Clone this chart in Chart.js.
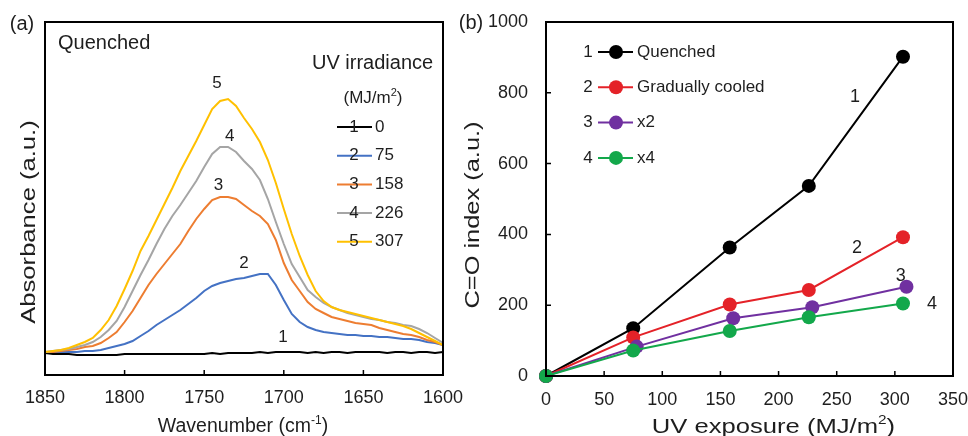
<!DOCTYPE html>
<html>
<head>
<meta charset="utf-8">
<script src="https://cdn.jsdelivr.net/npm/chart.js@4.4.1/dist/chart.umd.min.js"></script>
<style>
  html, body { margin: 0; padding: 0; background: #fff; }
  #wrap { position: relative; width: 968px; height: 436px; overflow: hidden; }
  #spectra { position: absolute; left: 0; top: 0; }
  #index { position: absolute; left: 455px; top: 0; }
</style>
</head>
<body>
<div id="wrap">
  <canvas id="spectra" width="472" height="436"></canvas>
  <canvas id="index" width="513" height="436"></canvas>
</div>
<script>
const FONT = '"Liberation Sans", Arial, sans-serif';
const INK = '#1e1e1e';

// (a) carbonyl band, absorbance above baseline (x1000, a.u.)
const wavenumbers = [1850, 1845, 1840, 1835, 1830, 1825, 1820, 1815, 1810, 1805,
  1800, 1795, 1790, 1785, 1780, 1775, 1770, 1765, 1760, 1755,
  1750, 1745, 1740, 1735, 1730, 1725, 1720, 1715, 1710, 1705,
  1700, 1695, 1690, 1685, 1680, 1675, 1670, 1665, 1660, 1655,
  1650, 1645, 1640, 1635, 1630, 1625, 1620, 1615, 1610, 1605, 1600];
const abs0 = [0, -1, -1, -1, -2, -2, -2, -2, -2, -2,
  -1, -1, -1, -1, -1, -1, -1, -1, -1, -1,
  -1, 0, -1, 0, 0, 0, 0, 1, 0, 1,
  1, 1, 1, 0, 1, 0, 1, 1, 0, 1,
  1, 1, 1, 0, 1, 1, 0, 1, 1, 0, 1];
const abs75 = [1, 1, 1, 1, 1, 2, 2, 3, 5, 7,
  9, 12, 17, 22, 28, 33, 38, 43, 49, 55,
  62, 67, 70, 72, 74, 75, 77, 79, 79, 68,
  53, 39, 31, 26, 23, 21, 20, 19, 18, 18,
  17, 17, 16, 16, 15, 14, 14, 13, 11, 10, 8];
const abs158 = [1, 1, 2, 3, 4, 6, 7, 10, 15, 21,
  31, 42, 55, 68, 79, 89, 99, 109, 122, 134,
  144, 153, 156, 156, 154, 148, 142, 137, 129, 113,
  90, 73, 62, 51, 44, 40, 36, 34, 32, 30,
  29, 28, 25, 23, 21, 19, 18, 16, 13, 11, 8];
const abs226 = [1, 2, 3, 4, 6, 8, 11, 16, 23, 32,
  46, 62, 78, 93, 109, 124, 137, 148, 160, 172,
  186, 199, 206, 206, 201, 192, 184, 173, 154, 131,
  109, 89, 76, 63, 56, 50, 46, 43, 40, 38,
  36, 34, 33, 31, 30, 28, 27, 24, 20, 15, 10];
const abs307 = [1, 2, 3, 5, 8, 11, 15, 23, 33, 47,
  64, 82, 102, 117, 133, 149, 165, 182, 197, 212,
  228, 244, 252, 254, 247, 235, 224, 211, 193, 170,
  144, 119, 97, 78, 62, 52, 46, 43, 41, 39,
  37, 35, 33, 31, 29, 27, 24, 20, 16, 12, 8];
const doses = [0, 75, 158, 226, 307];
const spectraColors = ['#000000', '#4472c4', '#ed7d31', '#a5a5a5', '#ffc000'];

// (b) C=O index against UV exposure
const exposure = [0, 75, 158, 226, 307];
const exposureX2 = [0, 78, 161, 229, 310];
const coQuenched = [0, 135, 363, 537, 902];
const coGradual = [0, 109, 202, 243, 392];
const coX2 = [0, 83, 163, 194, 252];
const coX4 = [0, 72, 127, 166, 205];
const sampleNames = ['Quenched', 'Gradually cooled', 'x2', 'x4'];
const sampleColors = ['#000000', '#e42228', '#7030a0', '#13a84b'];

// text with optional superscript parts, e.g. ['cm', ['-1']]
function drawText(ctx, parts, x, y, o = {}) {
  const size = o.size || 18;
  ctx.save();
  ctx.translate(x, y);
  if (o.rotate) ctx.rotate(-Math.PI / 2);
  ctx.scale(o.stretch || 1, 1);
  ctx.fillStyle = o.color || INK;
  ctx.textBaseline = 'middle';
  ctx.textAlign = 'left';
  const pieces = (typeof parts === 'string' ? [parts] : parts).map(p => {
    const sup = Array.isArray(p);
    const text = sup ? p[0] : p;
    const fs = sup ? Math.round(size * 0.62) : size;
    ctx.font = fs + 'px ' + FONT;
    return { text, fs, sup, w: ctx.measureText(text).width };
  });
  const total = pieces.reduce((s, p) => s + p.w, 0);
  let cx = o.align === 'left' ? 0 : -total / 2;
  pieces.forEach(p => {
    ctx.font = p.fs + 'px ' + FONT;
    ctx.fillText(p.text, cx, p.sup ? -size * 0.32 : 0);
    cx += p.w;
  });
  ctx.restore();
}

function hline(ctx, x1, x2, y, color) {
  ctx.save();
  ctx.strokeStyle = color;
  ctx.lineWidth = 2;
  ctx.beginPath();
  ctx.moveTo(x1, y);
  ctx.lineTo(x2, y);
  ctx.stroke();
  ctx.restore();
}

// box round the plot area, tick marks pointing inwards
const framePlugin = {
  id: 'frame',
  afterDraw(chart, args, opts) {
    const { ctx, chartArea: a } = chart;
    ctx.save();
    ctx.strokeStyle = '#000';
    ctx.lineWidth = 2;
    ctx.strokeRect(a.left, a.top, a.right - a.left, a.bottom - a.top);
    ctx.lineWidth = 1.5;
    ctx.beginPath();
    (opts.ticksOn || []).forEach(id => {
      const s = chart.scales[id];
      s.ticks.forEach(t => {
        const p = s.getPixelForValue(t.value);
        if (s.isHorizontal()) {
          ctx.moveTo(p, a.bottom);
          ctx.lineTo(p, a.bottom - 5);
        } else {
          ctx.moveTo(a.left, p);
          ctx.lineTo(a.left + 5, p);
        }
      });
    });
    ctx.stroke();
    ctx.restore();
  }
};

const spectraText = {
  id: 'spectraText',
  afterDraw(chart) {
    const { ctx, scales: { x, y } } = chart;
    drawText(ctx, '(a)', 22, 24, { size: 20 });
    drawText(ctx, 'Quenched', 58, 43, { size: 20, align: 'left' });
    drawText(ctx, 'UV irradiance', 312, 63, { size: 20, align: 'left' });
    drawText(ctx, ['(MJ/m', ['2'], ')'], 373, 98, { size: 17 });
    doses.forEach((d, i) => {
      const ry = 127 + i * 28.7;
      hline(ctx, 337, 372, ry, spectraColors[i]);
      drawText(ctx, String(i + 1), 354, ry, { size: 17 });
      drawText(ctx, String(d), 375, ry, { size: 17, align: 'left' });
    });
    // curve numbers, placed in data units
    const tags = [[1700.5, 16], [1725, 90], [1741, 168], [1734, 217], [1742, 270]];
    tags.forEach(([wn, v], i) => {
      drawText(ctx, String(i + 1), x.getPixelForValue(wn), y.getPixelForValue(v), { size: 17 });
    });
    drawText(ctx, ['Wavenumber (cm', ['-1'], ')'], 243, 427, { size: 19.5 });
    drawText(ctx, 'Absorbance (a.u.)', 29.5, 222, { size: 20, rotate: true, stretch: 1.28 });
  }
};

const indexText = {
  id: 'indexText',
  afterDraw(chart) {
    const { ctx, scales: { x, y } } = chart;
    drawText(ctx, '(b)', 16, 23, { size: 20 });
    sampleNames.forEach((name, i) => {
      const ry = 52 + i * 35.3;
      drawText(ctx, String(i + 1), 133, ry, { size: 17 });
      hline(ctx, 143, 178, ry, sampleColors[i]);
      ctx.save();
      ctx.fillStyle = sampleColors[i];
      ctx.beginPath();
      ctx.arc(161, ry, 7, 0, Math.PI * 2);
      ctx.fill();
      ctx.restore();
      drawText(ctx, name, 182, ry, { size: 17, align: 'left' });
    });
    const tags = [[265.7, 788], [267.4, 362], [305, 282], [332, 203]];
    tags.forEach(([ex, v], i) => {
      drawText(ctx, String(i + 1), x.getPixelForValue(ex), y.getPixelForValue(v), { size: 18 });
    });
    drawText(ctx, ['UV exposure (MJ/m', ['2'], ')'], 318.5, 427, { size: 20, stretch: 1.28 });
    drawText(ctx, 'C=O index (a.u.)', 18.5, 215, { size: 20, rotate: true, stretch: 1.27 });
  }
};

const tickFont = { family: FONT, size: 18 };
const noGrid = { display: false, drawTicks: false };
const plain = v => String(v);

new Chart(document.getElementById('spectra'), {
  type: 'line',
  data: {
    datasets: [abs0, abs75, abs158, abs226, abs307].map((vals, i) => ({
      label: String(doses[i]),
      data: vals.map((v, j) => ({ x: wavenumbers[j], y: v })),
      borderColor: spectraColors[i],
      borderWidth: 2,
      pointRadius: 0,
      tension: 0,
      order: 5 - i
    }))
  },
  options: {
    responsive: false,
    animation: false,
    layout: { padding: { top: 22, right: 29, left: 0, bottom: 0 } },
    plugins: { legend: { display: false }, tooltip: { enabled: false }, frame: { ticksOn: ['x'] } },
    scales: {
      x: {
        type: 'linear', reverse: true, min: 1600, max: 1850,
        ticks: { stepSize: 50, font: tickFont, color: INK, padding: 12, maxRotation: 0, autoSkip: false, callback: plain },
        grid: noGrid, border: { display: false },
        afterFit: s => { s.height = 61; s.paddingLeft = 0; s.paddingRight = 0; }
      },
      y: {
        min: -22, max: 331,
        ticks: { display: false },
        grid: noGrid, border: { display: false },
        afterFit: s => { s.width = 45; s.paddingTop = 0; s.paddingBottom = 0; }
      }
    }
  },
  plugins: [framePlugin, spectraText]
});

const indexX = [exposure, exposure, exposureX2, exposure];
new Chart(document.getElementById('index'), {
  type: 'line',
  data: {
    datasets: [coQuenched, coGradual, coX2, coX4].map((vals, i) => ({
      label: sampleNames[i],
      data: vals.map((v, j) => ({ x: indexX[i][j], y: v })),
      borderColor: sampleColors[i],
      backgroundColor: sampleColors[i],
      borderWidth: 2,
      pointRadius: 7,
      pointBorderWidth: 0,
      pointBackgroundColor: sampleColors[i],
      tension: 0,
      clip: false,
      order: 4 - i
    }))
  },
  options: {
    responsive: false,
    animation: false,
    layout: { padding: { top: 22, right: 15, left: 0, bottom: 0 } },
    plugins: { legend: { display: false }, tooltip: { enabled: false }, frame: { ticksOn: ['x', 'y'] } },
    scales: {
      x: {
        type: 'linear', min: 0, max: 350,
        ticks: { stepSize: 50, font: tickFont, color: INK, padding: 13, maxRotation: 0, autoSkip: false, callback: plain },
        grid: noGrid, border: { display: false },
        afterFit: s => { s.height = 60; s.paddingLeft = 0; s.paddingRight = 0; }
      },
      y: {
        min: 0, max: 1000,
        ticks: { stepSize: 200, font: tickFont, color: INK, padding: 18, callback: plain },
        grid: noGrid, border: { display: false },
        afterFit: s => { s.width = 91; s.paddingTop = 0; s.paddingBottom = 0; }
      }
    }
  },
  plugins: [framePlugin, indexText]
});
</script>
</body>
</html>
